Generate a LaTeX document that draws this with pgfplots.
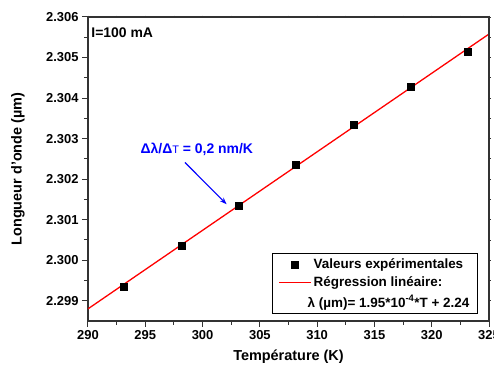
\documentclass[border=0pt]{standalone}
\usepackage{fontspec}
\setmainfont{Liberation Sans}
\usepackage{pgfplots}
\pgfplotsset{compat=1.18}
\usetikzlibrary{arrows.meta}
\definecolor{axgray}{HTML}{333333}
\pgfplotsset{
  lineimg/.style={legend image code/.code={\draw[##1] (0bp,0bp) -- (32bp,0bp);}},
  markimg/.style={legend image code/.code={\draw[mark repeat=1,mark phase=1,##1] plot coordinates {(16bp,0bp)};}},
}
\begin{document}
\begin{tikzpicture}
\pgfplotsset{
  common/.style={
    scale only axis, width=401bp, height=304bp,
    at={(0,0)}, anchor=south west,
    xmin=290, xmax=325, ymin=2.2985, ymax=2.306,
    xtick={290,295,...,325},
    ytick={2.299,2.300,2.301,2.302,2.303,2.304,2.305,2.306},
    minor x tick num=1, minor y tick num=1,
  }
}
\begin{axis}[common,
  axis line style={axgray, line width=1.2bp},
  every tick/.style={axgray, line width=1bp},
  tick align=outside,
  major tick length=6bp, minor tick length=4bp,
  xtick pos=bottom, ytick pos=left,
  /pgf/number format/assume math mode=true,
  ticklabel style={font=\fontsize{13}{14}\selectfont\bfseries},
  yticklabel style={/pgf/number format/.cd, fixed, fixed zerofill, precision=3},
  xticklabel style={/pgf/number format/.cd, fixed, precision=0},
  xlabel={Température (K)},
  ylabel={Longueur d'onde (µm)},
  label style={font=\fontsize{14.5}{16}\selectfont\bfseries},
  xlabel style={at={(axis description cs:0.5,0)}, anchor=center, yshift=-36bp},
  ylabel style={at={(axis description cs:-0.1746,0.5)}, anchor=center},
  legend style={at={(rel axis cs:0.972,0.023)}, anchor=south east,
    draw=black, line width=0.8bp, font=\fontsize{13.5}{15}\selectfont\bfseries,
    row sep=3bp, inner xsep=6bp, inner ysep=3bp},
  legend cell align=left,
]
\addplot[only marks, mark=square*, mark size=3.5bp, black, markimg] coordinates {
  (293.15,2.29935) (298.15,2.30035) (303.15,2.30135) (308.15,2.30236)
  (313.15,2.30335) (318.15,2.30429) (323.15,2.30515)
};
\addlegendentry{Valeurs expérimentales}
\addplot[red, line width=1.3bp, lineimg] coordinates {(290,2.29880) (325,2.30558)};
\addlegendentry{Régression linéaire:}
\addlegendimage{empty legend}
\addlegendentry{\hspace*{-6bp}λ (µm)= 1.95*10\textsuperscript{-4}*T + 2.24}
\node[anchor=north west, font=\fontsize{14}{16}\selectfont\bfseries, inner sep=0pt]
  at (rel axis cs:0.008,0.965) {I=100 mA};
\node[font=\fontsize{14}{16}\selectfont\bfseries, text=blue, inner sep=0pt]
  at (axis cs:299.5,2.30274) {Δλ/Δ{\mdseries\fontsize{11}{12}\selectfont T} = 0,2 nm/K};
\draw[blue, line width=1.2bp, -{Stealth[length=7bp,width=5bp]}]
  (axis cs:298.46,2.30241) -- (axis cs:302.1,2.30138);
\end{axis}
\begin{axis}[common,
  axis line style={draw=none},
  every tick/.style={axgray, line width=0.8bp},
  tick align=center,
  major tick length=3bp, minor tick length=3bp,
  xtick pos=top, ytick pos=right,
  xticklabels={}, yticklabels={},
]
\draw[axgray, line width=1.6bp] (rel axis cs:1,0) -- (rel axis cs:1,1);
\end{axis}
\pgfresetboundingbox
\path[use as bounding box] (-88bp,-46bp) rectangle (406bp,321bp);
\end{tikzpicture}
\end{document}
